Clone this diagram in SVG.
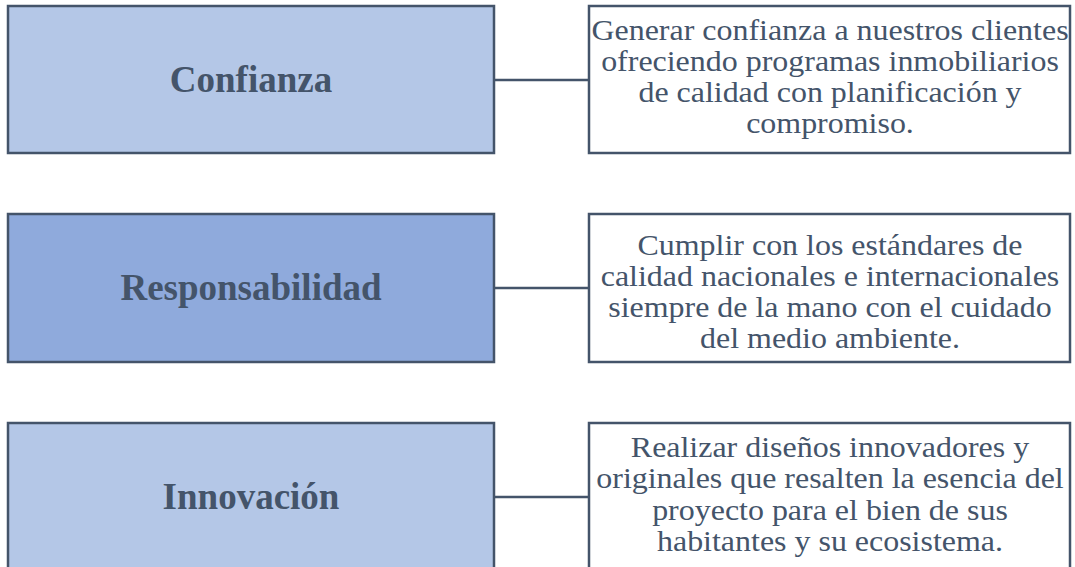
<svg xmlns="http://www.w3.org/2000/svg" width="1075" height="567" viewBox="0 0 1075 567">
<style>
.k{stroke:#44546a;stroke-width:2.5}
.t{font-family:'Liberation Serif',serif;font-weight:bold;font-size:37px;fill:#44546a;text-anchor:middle}
.d{font-family:'Liberation Serif',serif;font-size:30px;fill:#44546a;text-anchor:middle}
.c{stroke:#44546a;stroke-width:2.5;fill:none}
</style>
<rect width="1075" height="567" fill="#ffffff"/>
<g id="connectors">
<line class="c" x1="494" y1="80" x2="589" y2="80"/>
<line class="c" x1="494" y1="288" x2="589" y2="288"/>
<line class="c" x1="494" y1="497" x2="589" y2="497"/>
</g>
<g id="confianza">
<rect class="k" x="8" y="6" width="486" height="147" fill="#b4c7e7"/>
<text class="t" x="251" y="92">Confianza</text>
</g>
<g id="confianza-desc">
<rect class="k" x="589" y="6" width="481" height="147" fill="#ffffff"/>
<g transform="translate(830 0) scale(1.065 1) translate(-830 0)">
<text class="d" x="830" y="40">Generar confianza a nuestros clientes</text>
<text class="d" x="830" y="71">ofreciendo programas inmobiliarios</text>
<text class="d" x="830" y="102">de calidad con planificación y</text>
<text class="d" x="830" y="133">compromiso.</text>
</g>
</g>
<g id="responsabilidad">
<rect class="k" x="8" y="214" width="486" height="148" fill="#8faadc"/>
<text class="t" x="251" y="300">Responsabilidad</text>
</g>
<g id="responsabilidad-desc">
<rect class="k" x="589" y="214" width="481" height="148" fill="#ffffff"/>
<g transform="translate(830 0) scale(1.065 1) translate(-830 0)">
<text class="d" x="830" y="255">Cumplir con los estándares de</text>
<text class="d" x="830" y="286">calidad nacionales e internacionales</text>
<text class="d" x="830" y="317">siempre de la mano con el cuidado</text>
<text class="d" x="830" y="348">del medio ambiente.</text>
</g>
</g>
<g id="innovacion">
<rect class="k" x="8" y="423" width="486" height="160" fill="#b4c7e7"/>
<text class="t" x="251" y="509">Innovación</text>
</g>
<g id="innovacion-desc">
<rect class="k" x="589" y="423" width="481" height="160" fill="#ffffff"/>
<g transform="translate(830 0) scale(1.065 1) translate(-830 0)">
<text class="d" x="830" y="457">Realizar diseños innovadores y</text>
<text class="d" x="830" y="488.5">originales que resalten la esencia del</text>
<text class="d" x="830" y="520">proyecto para el bien de sus</text>
<text class="d" x="830" y="551.5">habitantes y su ecosistema.</text>
</g>
</g>
</svg>
